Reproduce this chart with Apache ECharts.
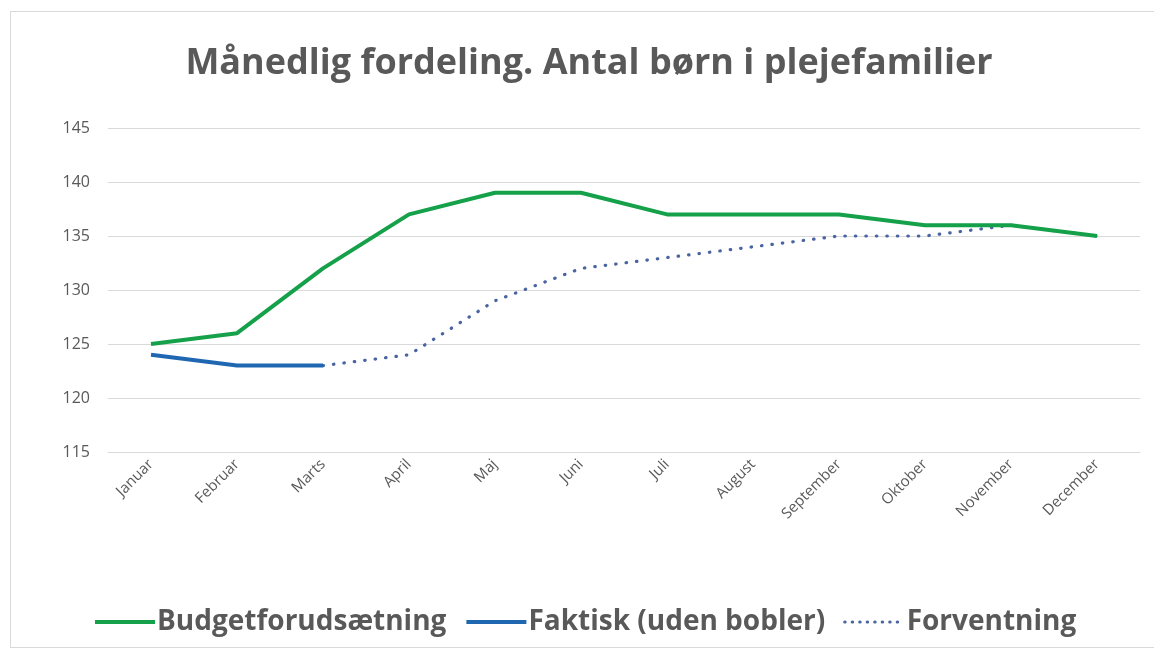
<!DOCTYPE html>
<html>
<head>
<meta charset="utf-8">
<script src="https://cdn.jsdelivr.net/npm/echarts@6/dist/echarts.min.js"></script>
<style>
html,body{margin:0;padding:0;background:#fff;}
#frame{position:absolute;left:10px;top:11px;width:1160px;height:637px;border:1px solid #d9d9d9;box-sizing:border-box;}
#chart{position:absolute;left:0;top:0;width:1154px;height:654px;}
</style>
</head>
<body>
<div id="frame"></div>
<div id="chart"></div>
<script>
var titleText = 'Månedlig fordeling. Antal børn i plejefamilier';
var months = ['Januar','Februar','Marts','April','Maj','Juni','Juli','August','September','Oktober','November','December'];
var budget = [125, 126, 132, 137, 139, 139, 137, 137, 137, 136, 136, 135];
var faktisk = [124, 123, 123];
var forventning = [null, null, 123, 124, 129, 132, 133, 134, 135, 135, 136, 135];
var yTicks = {min: 115, max: 145, interval: 5};
var names = ['Budgetforudsætning','Faktisk (uden bobler)','Forventning'];
var colors = ['#15A04A', '#1F67B1', '#4A64A2'];

var chart = echarts.init(document.getElementById('chart'));
var font = 'Open Sans';
chart.setOption({
  animation: false,
  backgroundColor: 'transparent',
  title: {
    text: titleText,
    left: 584, top: 41, textAlign: 'center',
    textStyle: {fontFamily: font, fontWeight: 'bold', fontSize: 36, color: '#595959'}
  },
  legend: {
    top: 603, left: 88,
    itemWidth: 60, itemHeight: 14, itemGap: 18,
    itemStyle: {opacity: 0},
    textStyle: {fontFamily: font, fontWeight: 'bold', fontSize: 28, color: '#595959', padding: [0,0,0,-3]},
    data: [
      {name: names[0], lineStyle: {width: 4}},
      {name: names[1], lineStyle: {width: 4}},
      {name: names[2], lineStyle: {width: 3, type: [0.5, 7], cap: 'round'}}
    ]
  },
  grid: {left: 108, right: 14, top: 128, bottom: 202, containLabel: false},
  xAxis: {
    type: 'category', data: months, boundaryGap: true,
    axisLine: {show: true, lineStyle: {color: '#d9d9d9'}},
    axisTick: {show: false},
    axisLabel: {rotate: 45, fontFamily: font, fontSize: 15, color: '#595959', margin: 10, interval: 0}
  },
  yAxis: {
    type: 'value', min: yTicks.min, max: yTicks.max, interval: yTicks.interval,
    axisLine: {show: false}, axisTick: {show: false},
    axisLabel: {fontFamily: font, fontSize: 16, color: '#595959', margin: 18},
    splitLine: {lineStyle: {color: '#d9d9d9', width: 1}}
  },
  series: [
    {name: names[0], type: 'line', data: budget, symbol: 'none',
     lineStyle: {color: colors[0], width: 4}, itemStyle: {color: colors[0]}, z: 3},
    {name: names[1], type: 'line', data: faktisk, symbol: 'none',
     lineStyle: {color: colors[1], width: 4}, itemStyle: {color: colors[1]}, z: 4},
    {name: names[2], type: 'line', data: forventning, symbol: 'none',
     lineStyle: {color: colors[2], width: 3.2, type: [0.5, 10], cap: 'round'}, itemStyle: {color: colors[2]}, z: 2}
  ]
});
</script>
</body>
</html>
